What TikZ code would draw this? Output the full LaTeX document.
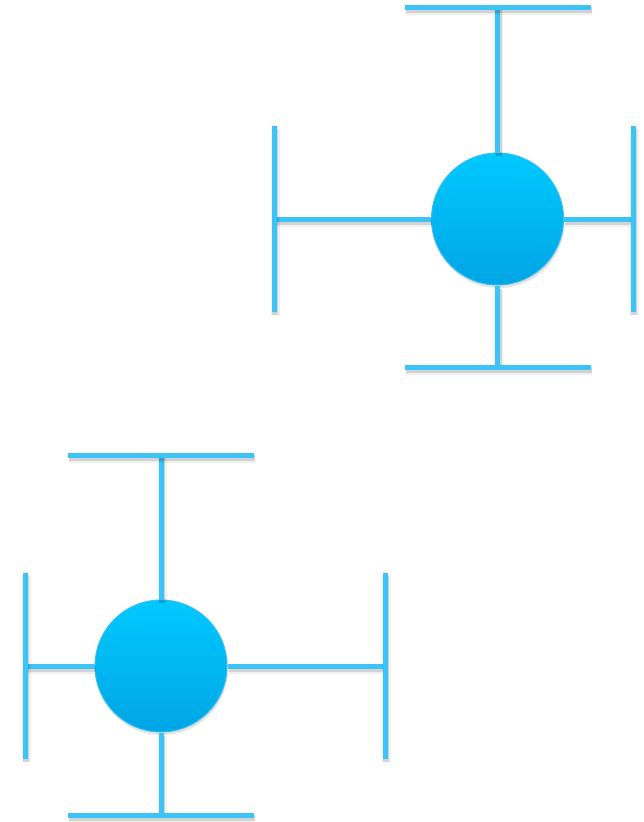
\documentclass[tikz,border=0pt]{standalone}
\usetikzlibrary{shadows}
\definecolor{linec}{HTML}{3CC3F8}
\definecolor{topc}{HTML}{00C9FF}
\definecolor{botc}{HTML}{00A5E4}
\definecolor{rimc}{HTML}{3ABEF2}
\tikzset{
  bar/.style={draw=linec, line width=5pt,
    preaction={draw=black, opacity=0.06, line width=9pt, transform canvas={shift={(1pt,-3pt)}}},
    preaction={draw=black, opacity=0.12, line width=6pt, transform canvas={shift={(1pt,-3pt)}}}},
  ball/.style={circle, minimum size=132pt, inner sep=0pt, draw=rimc, line width=1pt,
    top color=topc, bottom color=botc,
    drop shadow={opacity=0.22, shadow xshift=1pt, shadow yshift=-3pt}}
}
\begin{document}
\begin{tikzpicture}[x=1pt, y=-1pt]
\useasboundingbox (0,0) rectangle (644,822);
% first cross
\coordinate (t1) at (497.5,7);
\coordinate (b1) at (497.5,367);
\coordinate (l1) at (274,219);
\coordinate (r1) at (633,219);
\node[ball] (c1) at (497.5,219) {};
\draw[bar] (c1.north) -- (t1);
\draw[bar] (c1.south) -- (b1);
\draw[bar] (c1.west) -- (l1);
\draw[bar] (c1.east) -- (r1);
\draw[bar] ([xshift=-93pt]t1) -- ([xshift=93pt]t1);
\draw[bar] ([xshift=-93pt]b1) -- ([xshift=93pt]b1);
\draw[bar] ([yshift=-93pt]l1) -- ([yshift=93pt]l1);
\draw[bar] ([yshift=-93pt]r1) -- ([yshift=93pt]r1);
% second cross
\coordinate (t2) at (161,455);
\coordinate (b2) at (161,815);
\coordinate (l2) at (25,666);
\coordinate (r2) at (385,666);
\node[ball] (c2) at (161,666) {};
\draw[bar] (c2.north) -- (t2);
\draw[bar] (c2.south) -- (b2);
\draw[bar] (c2.west) -- (l2);
\draw[bar] (c2.east) -- (r2);
\draw[bar] ([xshift=-93pt]t2) -- ([xshift=93pt]t2);
\draw[bar] ([xshift=-93pt]b2) -- ([xshift=93pt]b2);
\draw[bar] ([yshift=-93pt]l2) -- ([yshift=93pt]l2);
\draw[bar] ([yshift=-93pt]r2) -- ([yshift=93pt]r2);
\end{tikzpicture}
\end{document}
